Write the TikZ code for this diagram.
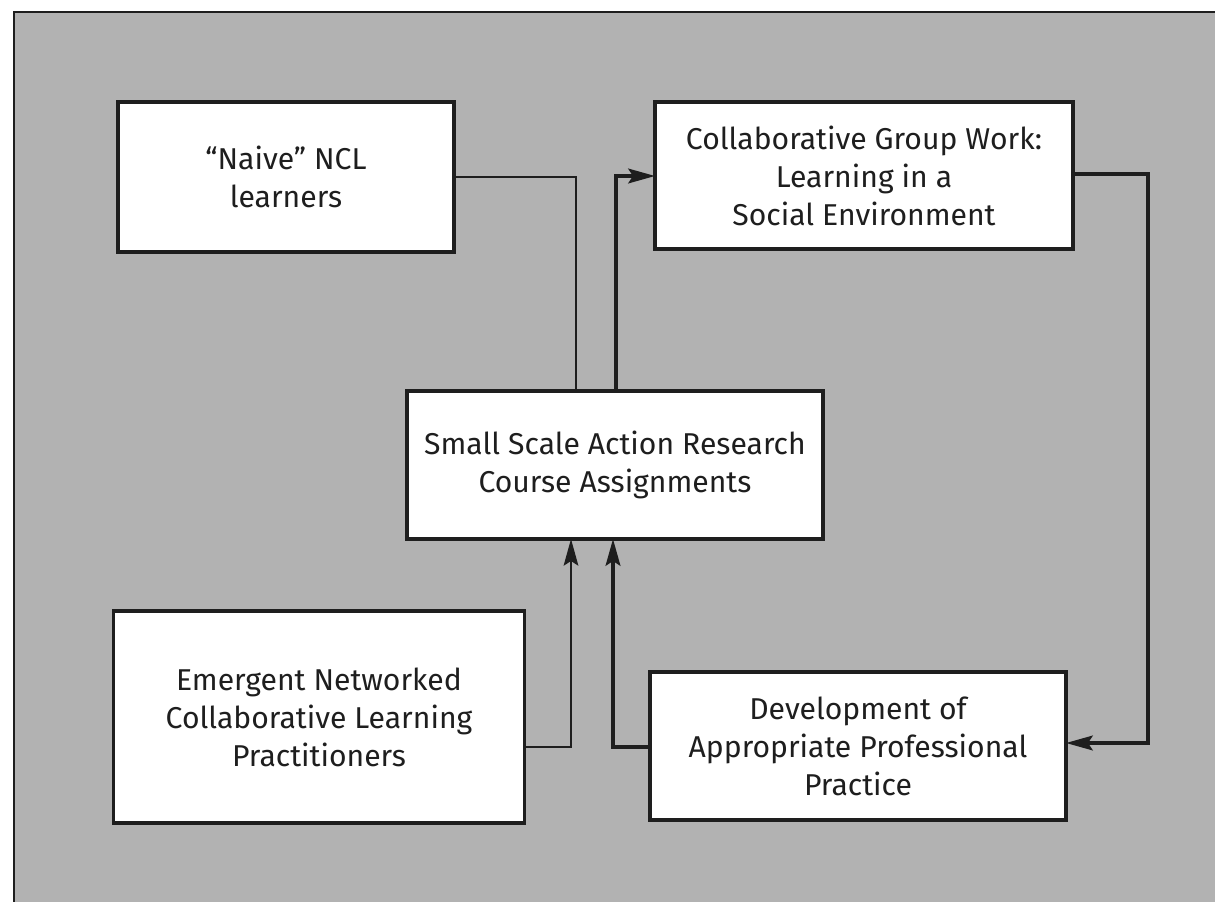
\documentclass[tikz,border=0pt]{standalone}
\usepackage{fontspec}
\setmainfont{Fira Sans}
\usetikzlibrary{arrows.meta}
\definecolor{panelgray}{RGB}{178,178,178}
\definecolor{ink}{RGB}{30,30,30}
\begin{document}
\begin{tikzpicture}[x=0.75pt,y=-0.75pt,
  box/.style={draw=ink,fill=white,line width=2.4pt,inner sep=0pt,outer sep=0pt,
    align=center,font=\fontsize{22.6}{28.5}\selectfont,text=ink},
  thinlink/.style={draw=ink,line width=1.5pt},
  thicklink/.style={draw=ink,line width=2.6pt},
  tip/.style={-{Stealth[length=20pt,width=11pt,inset=3.5pt]}}]
\useasboundingbox (0,0) rectangle (1215,902);
% grey panel behind the chart
\fill[white] (0,0) rectangle (1215,902);
\fill[panelgray] (14,12) rectangle (1215,902);
\draw[ink,line width=1.6pt] (14,902) -- (14,12) -- (1215,12);

% boxes
\node[box,minimum width=336*0.75pt,minimum height=150*0.75pt] (naive) at (286,177)
  {“Naive” NCL\\learners};
\node[box,minimum width=418*0.75pt,minimum height=147*0.75pt] (collab) at (864,175.5)
  {Collaborative Group Work:\\Learning in a\\Social Environment};
\node[box,minimum width=416*0.75pt,minimum height=148*0.75pt] (small) at (615,465)
  {Small Scale Action Research\\Course Assignments};
\node[box,minimum width=411*0.75pt,minimum height=212*0.75pt] (emergent) at (319,717)
  {Emergent Networked\\Collaborative Learning\\Practitioners};
\node[box,minimum width=416*0.75pt,minimum height=148*0.75pt] (devel) at (858,746)
  {Development of\\Appropriate Professional\\Practice};

% bend points of the connectors
\coordinate (j1) at (576,177);
\coordinate (j2) at (616,176);
\coordinate (j3) at (1148,174);
\coordinate (j4) at (1148,743);
\coordinate (j5) at (571,747);
\coordinate (j6) at (613,747);

% connectors
\draw[thinlink] (naive.east |- j1) -- (j1) -- (j1 |- small.north);
\draw[thicklink,tip] (j2 |- small.north) -- (j2) -- (collab.west |- j2);
\draw[thicklink,tip] (collab.east |- j3) -- (j3) -- (j4) -- (devel.east |- j4);
\draw[thinlink,tip] (emergent.east |- j5) -- (j5) -- (j5 |- small.south);
\draw[thicklink,tip] (devel.west |- j6) -- (j6) -- (j6 |- small.south);
\end{tikzpicture}
\end{document}
